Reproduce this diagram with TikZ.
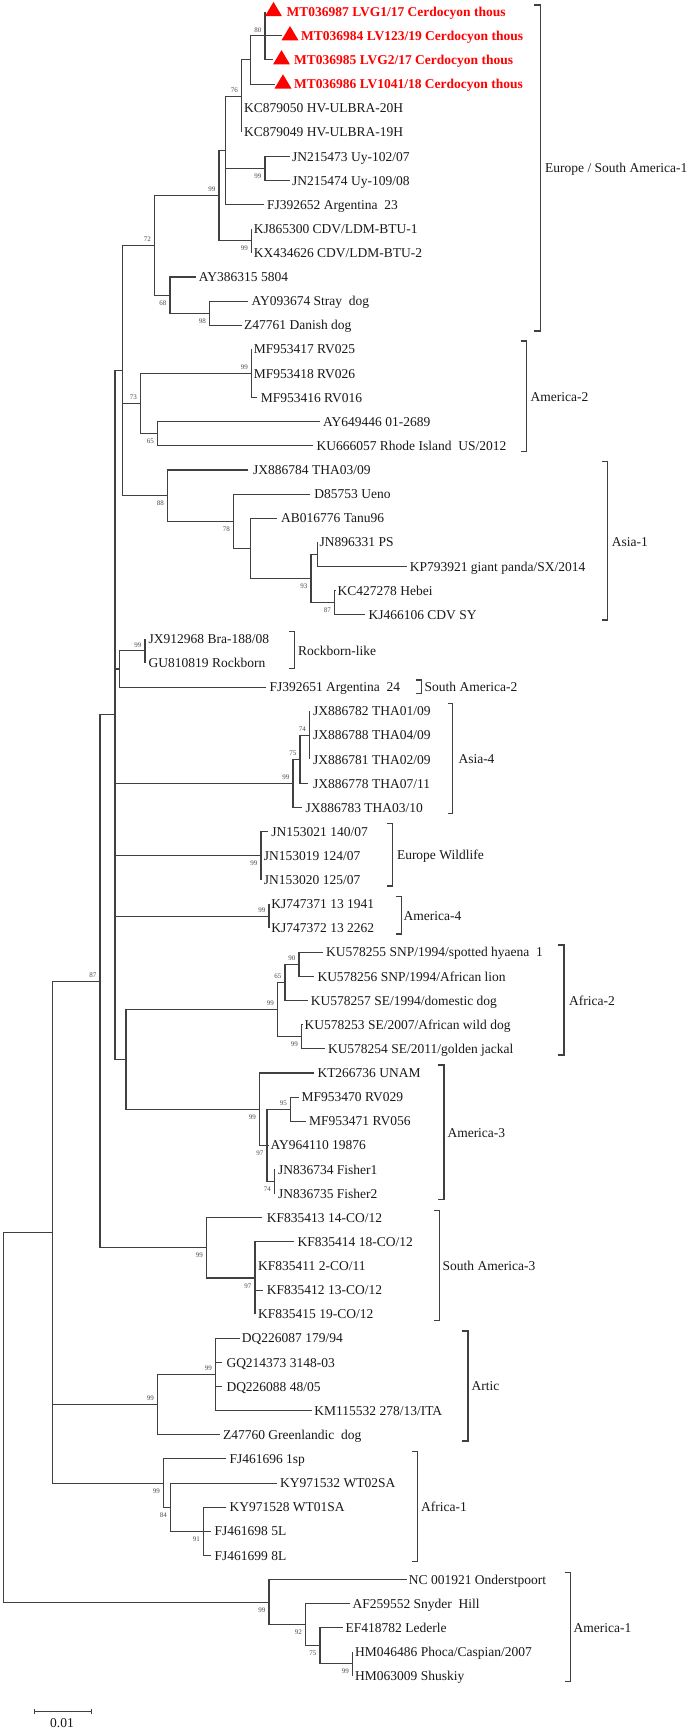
\documentclass[tikz,border=0pt]{standalone}
\usepackage{fontspec}
\setmainfont{Liberation Serif}
\begin{document}
\begin{tikzpicture}[x=1pt,y=-1pt,
  br/.style={draw=black!75,line width=1.05pt},
  brk/.style={draw=black!75,line width=1.05pt},
  lab/.style={anchor=west,inner sep=0pt,font=\fontsize{13.5}{16}\selectfont,text height=9.2pt,text depth=0pt,text=black!90},
  rlab/.style={anchor=west,inner sep=0pt,font=\fontsize{13.5}{16}\selectfont\bfseries,text height=9.2pt,text depth=0pt,text=red},
  bs/.style={inner sep=0pt,font=\fontsize{7}{8}\selectfont,text=black!70,text height=4.8pt,text depth=0pt},
  bsA/.style={bs,anchor=south east,xshift=-3.5pt,yshift=3.5pt},
  bsB/.style={bs,anchor=north east,xshift=-3.5pt,yshift=-5pt},
  tri/.style={fill=red,draw=none}
]
\fill[white] (0,0) rectangle (689,1729);
\useasboundingbox (0,0) rectangle (689,1729);

% ---------- internal nodes ----------
\coordinate (A80) at (265,35.82);
\coordinate (A) at (250.5,59.94);
\coordinate (A76) at (241.5,96.12);
\coordinate (AUy) at (265,168.48);
\coordinate (B) at (225.5,150.39);
\coordinate (BLDM) at (251.5,240.84);
\coordinate (C99) at (219,195.6);
\coordinate (D98) at (209.5,313.2);
\coordinate (D68) at (170,295.11);
\coordinate (E72) at (154.5,245.36);
\coordinate (F99) at (251.5,373.5);
\coordinate (F65) at (157.5,433.8);
\coordinate (F73) at (140.5,403.65);
\coordinate (G87) at (334.5,602.64);
\coordinate (Gjn) at (317.5,554.4);
\coordinate (G93) at (311,578.52);
\coordinate (Gab) at (250.5,548.37);
\coordinate (G78) at (233.5,521.24);
\coordinate (G88) at (167.5,495.61);
\coordinate (H) at (122.5,370.49);
\coordinate (I99) at (145,650.88);
\coordinate (I) at (119.5,668.97);
\coordinate (J74) at (309.5,735.3);
\coordinate (J75) at (300,759.42);
\coordinate (J99) at (293,783.54);
\coordinate (K99) at (261,855.9);
\coordinate (L99) at (269,916.2);
\coordinate (M90) at (299,964.44);
\coordinate (M65) at (285,982.53);
\coordinate (M99b) at (301.5,1036.8);
\coordinate (M99) at (277.5,1009.67);
\coordinate (N95) at (290.5,1109.16);
\coordinate (N74) at (274.5,1181.52);
\coordinate (N97) at (267,1145.34);
\coordinate (N99) at (259.5,1109.16);
\coordinate (O) at (126,1059.4);
\coordinate (P) at (115,714.95);
\coordinate (Q97) at (255,1278);
\coordinate (Q99) at (206.5,1247.85);
\coordinate (R87) at (100,981.4);
\coordinate (S99b) at (215.5,1374.48);
\coordinate (S99) at (157.5,1404.63);
\coordinate (T91) at (203.5,1531.26);
\coordinate (T84) at (170.5,1507.14);
\coordinate (T99) at (163.5,1483.02);
\coordinate (U) at (52.5,1232.2);
\coordinate (V99b) at (352.5,1663.92);
\coordinate (V75) at (320,1645.83);
\coordinate (V92) at (305.5,1624.73);
\coordinate (V99) at (269,1602.1);
\coordinate (Root) at (3.5,1417.15);

% ---------- leaf ends ----------
\coordinate (l1) at (265,11.7);
\coordinate (l2) at (281.5,35.82);
\coordinate (l3) at (273,59.94);
\coordinate (l4) at (274.5,84.06);
\coordinate (l5) at (241.5,108.18);
\coordinate (l6) at (241.5,132.30);
\coordinate (l7) at (290,156.42);
\coordinate (l8) at (290,180.54);
\coordinate (l9) at (263.7,204.66);
\coordinate (l10) at (251.5,228.78);
\coordinate (l11) at (251.5,252.90);
\coordinate (l12) at (195.6,277.02);
\coordinate (l13) at (248.4,301.14);
\coordinate (l14) at (241.8,325.26);
\coordinate (l15) at (251.5,349.38);
\coordinate (l16) at (251.5,373.50);
\coordinate (l17) at (257,397.62);
\coordinate (l18) at (320,421.74);
\coordinate (l19) at (312.9,445.86);
\coordinate (l20) at (248.3,469.98);
\coordinate (l21) at (309.8,494.10);
\coordinate (l22) at (276.8,518.22);
\coordinate (l23) at (317.5,542.34);
\coordinate (l24) at (406.5,566.46);
\coordinate (l25) at (336,590.58);
\coordinate (l26) at (364.7,614.70);
\coordinate (l27) at (145,638.82);
\coordinate (l28) at (145,662.94);
\coordinate (l29) at (266,687.06);
\coordinate (l30) at (309.5,711.18);
\coordinate (l31) at (309.5,735.30);
\coordinate (l32) at (309.5,759.42);
\coordinate (l33) at (308,783.54);
\coordinate (l34) at (302.3,807.66);
\coordinate (l35) at (268,831.78);
\coordinate (l36) at (261,855.90);
\coordinate (l37) at (261,880.02);
\coordinate (l38) at (269,904.14);
\coordinate (l39) at (269,928.26);
\coordinate (l40) at (323,952.38);
\coordinate (l41) at (314,976.50);
\coordinate (l42) at (307.6,1000.62);
\coordinate (l43) at (303,1024.74);
\coordinate (l44) at (325.2,1048.86);
\coordinate (l45) at (314.2,1072.98);
\coordinate (l46) at (299,1097.10);
\coordinate (l47) at (306.3,1121.22);
\coordinate (l48) at (269,1145.34);
\coordinate (l49) at (274.5,1169.46);
\coordinate (l50) at (274.5,1193.58);
\coordinate (l51) at (262.3,1217.70);
\coordinate (l52) at (293.5,1241.82);
\coordinate (l53) at (255,1265.94);
\coordinate (l54) at (262.8,1290.06);
\coordinate (l55) at (255,1314.18);
\coordinate (l56) at (239.5,1338.30);
\coordinate (l57) at (222,1362.42);
\coordinate (l58) at (222,1386.54);
\coordinate (l59) at (312,1410.66);
\coordinate (l60) at (219.7,1434.78);
\coordinate (l61) at (226.3,1458.90);
\coordinate (l62) at (277,1483.02);
\coordinate (l63) at (226.3,1507.14);
\coordinate (l64) at (211,1531.26);
\coordinate (l65) at (211,1555.38);
\coordinate (l66) at (406.5,1579.50);
\coordinate (l67) at (349.5,1603.62);
\coordinate (l68) at (342.8,1627.74);
\coordinate (l69) at (352.5,1651.86);
\coordinate (l70) at (352.5,1675.98);

% ---------- branches (first child -| node |- last child; middle children horizontal) ----------
\draw[br] (U) -| (Root) |- (V99);
\draw[br] (R87) -| (U) |- (T99);
\draw[br] (U |- S99) -- (S99);
\draw[br] (P) -| (R87) |- (Q99);
\draw[br] (H) -| (P) |- (O);
\draw[br] (P |- I) -- (I);
\draw[br] (P |- J99) -- (J99);
\draw[br] (P |- K99) -- (K99);
\draw[br] (P |- L99) -- (L99);
\draw[br] (E72) -| (H) |- (G88);
\draw[br] (H |- F73) -- (F73);
\draw[br] (C99) -| (E72) |- (D68);
\draw[br] (B) -| (C99) |- (BLDM);
\draw[br] (A76) -| (B) |- (l9);
\draw[br] (B |- AUy) -- (AUy);
\draw[br] (A) -| (A76) |- (l6);
\draw[br] (A76 |- l5) -- (l5);
\draw[br] (A80) -| (A) |- (l4);
\draw[br] (l1) -| (A80) |- (l3);
\draw[br] (A80 |- l2) -- (l2);
\draw[br] (l7) -| (AUy) |- (l8);
\draw[br] (l10) -| (BLDM) |- (l11);
\draw[br] (l12) -| (D68) |- (D98);
\draw[br] (l13) -| (D98) |- (l14);
\draw[br] (F99) -| (F73) |- (F65);
\draw[br] (l15) -| (F99) |- (l17);
\draw[br] (F99 |- l16) -- (l16);
\draw[br] (l18) -| (F65) |- (l19);
\draw[br] (l20) -| (G88) |- (G78);
\draw[br] (l21) -| (G78) |- (Gab);
\draw[br] (l22) -| (Gab) |- (G93);
\draw[br] (Gjn) -| (G93) |- (G87);
\draw[br] (l23) -| (Gjn) |- (l24);
\draw[br] (l25) -| (G87) |- (l26);
\draw[br] (I99) -| (I) |- (l29);
\draw[br] (l27) -| (I99) |- (l28);
\draw[br] (J75) -| (J99) |- (l34);
\draw[br] (J74) -| (J75) |- (l33);
\draw[br] (l30) -| (J74) |- (l32);
\draw[br] (J74 |- l31) -- (l31);
\draw[br] (l35) -| (K99) |- (l37);
\draw[br] (K99 |- l36) -- (l36);
\draw[br] (l38) -| (L99) |- (l39);
\draw[br] (M99) -| (O) |- (N99);
\draw[br] (M65) -| (M99) |- (M99b);
\draw[br] (M90) -| (M65) |- (l42);
\draw[br] (l40) -| (M90) |- (l41);
\draw[br] (l43) -| (M99b) |- (l44);
\draw[br] (l45) -| (N99) |- (N97);
\draw[br] (N95) -| (N97) |- (N74);
\draw[br] (N97 |- l48) -- (l48);
\draw[br] (l46) -| (N95) |- (l47);
\draw[br] (l49) -| (N74) |- (l50);
\draw[br] (l51) -| (Q99) |- (Q97);
\draw[br] (l52) -| (Q97) |- (l55);
\draw[br] (Q97 |- l53) -- (l53);
\draw[br] (Q97 |- l54) -- (l54);
\draw[br] (S99b) -| (S99) |- (l60);
\draw[br] (l56) -| (S99b) |- (l59);
\draw[br] (S99b |- l57) -- (l57);
\draw[br] (S99b |- l58) -- (l58);
\draw[br] (l61) -| (T99) |- (T84);
\draw[br] (l62) -| (T84) |- (T91);
\draw[br] (l63) -| (T91) |- (l65);
\draw[br] (T91 |- l64) -- (l64);
\draw[br] (l66) -| (V99) |- (V92);
\draw[br] (l67) -| (V92) |- (V75);
\draw[br] (l68) -| (V75) |- (V99b);
\draw[br] (l69) -| (V99b) |- (l70);

% ---------- red markers ----------
\fill[tri] ([shift={(0,4.5)}]l1) -- ++(17,0) -- ++(-8.5,-14.3) -- cycle;
\fill[tri] ([shift={(0,4.5)}]l2) -- ++(17,0) -- ++(-8.5,-14.3) -- cycle;
\fill[tri] ([shift={(0,4.5)}]l3) -- ++(17,0) -- ++(-8.5,-14.3) -- cycle;
\fill[tri] ([shift={(0,4.5)}]l4) -- ++(17,0) -- ++(-8.5,-14.3) -- cycle;

% ---------- leaf labels ----------
\node[rlab] (t1) at (286.5,11.7) {MT036987 LVG1/17 Cerdocyon thous};
\node[rlab] (t2) at (301,35.82) {MT036984 LV123/19 Cerdocyon thous};
\node[rlab] (t3) at (294,59.94) {MT036985 LVG2/17 Cerdocyon thous};
\node[rlab] (t4) at (294,84.06) {MT036986 LV1041/18 Cerdocyon thous};
\node[lab] (t5) at (244,108.18) {KC879050 HV-ULBRA-20H};
\node[lab] (t6) at (244,132.30) {KC879049 HV-ULBRA-19H};
\node[lab] (t7) at (292,156.42) {JN215473 Uy-102/07};
\node[lab] (t8) at (292,180.54) {JN215474 Uy-109/08};
\node[lab] (t9) at (267,204.66) {FJ392652 Argentina\ \ 23};
\node[lab] (t10) at (253.6,228.78) {KJ865300 CDV/LDM-BTU-1};
\node[lab] (t11) at (253.6,252.90) {KX434626 CDV/LDM-BTU-2};
\node[lab] (t12) at (198.7,277.02) {AY386315 5804};
\node[lab] (t13) at (251.4,301.14) {AY093674 Stray\ \ dog};
\node[lab] (t14) at (244,325.26) {Z47761 Danish dog};
\node[lab] (t15) at (253.6,349.38) {MF953417 RV025};
\node[lab] (t16) at (253.6,373.50) {MF953418 RV026};
\node[lab] (t17) at (260.6,397.62) {MF953416 RV016};
\node[lab] (t18) at (323,421.74) {AY649446 01-2689};
\node[lab] (t19) at (316.4,445.86) {KU666057 Rhode Island\ \ US/2012};
\node[lab] (t20) at (253,469.98) {JX886784 THA03/09};
\node[lab] (t21) at (314.2,494.10) {D85753 Ueno};
\node[lab] (t22) at (281,518.22) {AB016776 Tanu96};
\node[lab] (t23) at (319.5,542.34) {JN896331 PS};
\node[lab] (t24) at (409.6,566.46) {KP793921 giant panda/SX/2014};
\node[lab] (t25) at (337.5,590.58) {KC427278 Hebei};
\node[lab] (t26) at (368.3,614.70) {KJ466106 CDV SY};
\node[lab] (t27) at (148.5,638.82) {JX912968 Bra-188/08};
\node[lab] (t28) at (148.5,662.94) {GU810819 Rockborn};
\node[lab] (t29) at (269.4,687.06) {FJ392651 Argentina\ \ 24};
\node[lab] (t30) at (313,711.18) {JX886782 THA01/09};
\node[lab] (t31) at (313,735.30) {JX886788 THA04/09};
\node[lab] (t32) at (313,759.42) {JX886781 THA02/09};
\node[lab] (t33) at (313,783.54) {JX886778 THA07/11};
\node[lab] (t34) at (305.4,807.66) {JX886783 THA03/10};
\node[lab] (t35) at (271.2,831.78) {JN153021 140/07};
\node[lab] (t36) at (263.7,855.90) {JN153019 124/07};
\node[lab] (t37) at (263.7,880.02) {JN153020 125/07};
\node[lab] (t38) at (271.2,904.14) {KJ747371 13 1941};
\node[lab] (t39) at (271.2,928.26) {KJ747372 13 2262};
\node[lab] (t40) at (326,952.38) {KU578255 SNP/1994/spotted hyaena\ \ 1};
\node[lab] (t41) at (317.3,976.50) {KU578256 SNP/1994/African lion};
\node[lab] (t42) at (310.7,1000.62) {KU578257 SE/1994/domestic dog};
\node[lab] (t43) at (304.5,1024.74) {KU578253 SE/2007/African wild dog};
\node[lab] (t44) at (327.8,1048.86) {KU578254 SE/2011/golden jackal};
\node[lab] (t45) at (317.3,1072.98) {KT266736 UNAM};
\node[lab] (t46) at (301.5,1097.10) {MF953470 RV029};
\node[lab] (t47) at (309,1121.22) {MF953471 RV056};
\node[lab] (t48) at (270.3,1145.34) {AY964110 19876};
\node[lab] (t49) at (277.8,1169.46) {JN836734 Fisher1};
\node[lab] (t50) at (277.8,1193.58) {JN836735 Fisher2};
\node[lab] (t51) at (266.7,1217.70) {KF835413 14-CO/12};
\node[lab] (t52) at (297.5,1241.82) {KF835414 18-CO/12};
\node[lab] (t53) at (258,1265.94) {KF835411 2-CO/11};
\node[lab] (t54) at (266.7,1290.06) {KF835412 13-CO/12};
\node[lab] (t55) at (258,1314.18) {KF835415 19-CO/12};
\node[lab] (t56) at (241.7,1338.30) {DQ226087 179/94};
\node[lab] (t57) at (226.3,1362.42) {GQ214373 3148-03};
\node[lab] (t58) at (226.3,1386.54) {DQ226088 48/05};
\node[lab] (t59) at (314.2,1410.66) {KM115532 278/13/ITA};
\node[lab] (t60) at (222.8,1434.78) {Z47760 Greenlandic\ \ dog};
\node[lab] (t61) at (229.4,1458.90) {FJ461696 1sp};
\node[lab] (t62) at (280,1483.02) {KY971532 WT02SA};
\node[lab] (t63) at (229.4,1507.14) {KY971528 WT01SA};
\node[lab] (t64) at (214.5,1531.26) {FJ461698 5L};
\node[lab] (t65) at (214.5,1555.38) {FJ461699 8L};
\node[lab] (t66) at (408.7,1579.50) {NC 001921 Onderstpoort};
\node[lab] (t67) at (352.4,1603.62) {AF259552 Snyder\ \ Hill};
\node[lab] (t68) at (345.5,1627.74) {EF418782 Lederle};
\node[lab] (t69) at (355,1651.86) {HM046486 Phoca/Caspian/2007};
\node[lab] (t70) at (355,1675.98) {HM063009 Shuskiy};

% ---------- bootstrap values ----------
\node[bsA] (b1) at (A80) {80};
\node[bsA] (b2) at (A76) {76};
\node[bsB] (b3) at (AUy) {99};
\node[bsA] (b4) at (C99) {99};
\node[bsB] (b5) at (BLDM) {99};
\node[bsA] (b6) at (E72) {72};
\node[bsB] (b7) at (D68) {68};
\node[bsB] (b8) at (D98) {98};
\node[bsA] (b9) at (F99) {99};
\node[bsA] (b10) at (F73) {73};
\node[bsB] (b11) at (F65) {65};
\node[bsB] (b12) at (G88) {88};
\node[bsB] (b13) at (G78) {78};
\node[bsB] (b14) at (G93) {93};
\node[bsB] (b15) at (G87) {87};
\node[bsA] (b16) at (I99) {99};
\node[bsA] (b17) at (J74) {74};
\node[bsA] (b18) at (J75) {75};
\node[bsA] (b19) at (J99) {99};
\node[bsB] (b20) at (K99) {99};
\node[bsA] (b21) at (L99) {99};
\node[bsA] (b22) at (M90) {90};
\node[bsA] (b23) at (M65) {65};
\node[bsA] (b24) at (M99) {99};
\node[bsB] (b25) at (M99b) {99};
\node[bsA] (b26) at (N95) {95};
\node[bsB] (b27) at (N99) {99};
\node[bsB] (b28) at (N97) {97};
\node[bsB] (b29) at (N74) {74};
\node[bsA] (b30) at (R87) {87};
\node[bsB] (b31) at (Q99) {99};
\node[bsB] (b32) at (Q97) {97};
\node[bsA] (b33) at (S99b) {99};
\node[bsA] (b34) at (S99) {99};
\node[bsB] (b35) at (T99) {99};
\node[bsB] (b36) at (T84) {84};
\node[bsB] (b37) at (T91) {91};
\node[bsB] (b38) at (V99) {99};
\node[bsB] (b39) at (V92) {92};
\node[bsB] (b40) at (V75) {75};
\node[bsB] (b41) at (V99b) {99};

% ---------- clade brackets ----------
\draw[brk] (534,5) -- (540.5,5) -- (540.5,331) -- (534,331);
\node[lab] (g1) at (545,168.3) {Europe / South America-1};
\draw[brk] (520.5,341) -- (526.5,341) -- (526.5,451.7) -- (520.5,451.7);
\node[lab] (g2) at (530.4,397.3) {America-2};
\draw[brk] (601.5,461.7) -- (607.5,461.7) -- (607.5,620) -- (601.5,620);
\node[lab] (g3) at (611.7,542.3) {Asia-1};
\draw[brk] (288.5,631.7) -- (294.5,631.7) -- (294.5,668.3) -- (288.5,668.3);
\node[lab] (g4) at (298,650.7) {Rockborn-like};
\draw[brk] (415.5,680) -- (421.5,680) -- (421.5,693.3) -- (415.5,693.3);
\node[lab] (g5) at (424.5,686.7) {South America-2};
\draw[brk] (447.5,703.3) -- (452.5,703.3) -- (452.5,813.3) -- (447.5,813.3);
\node[lab] (g6) at (458.3,759) {Asia-4};
\draw[brk] (386.5,823.3) -- (392.5,823.3) -- (392.5,886) -- (386.5,886);
\node[lab] (g7) at (396.8,855) {Europe Wildlife};
\draw[brk] (395.5,896.7) -- (401.5,896.7) -- (401.5,934) -- (395.5,934);
\node[lab] (g8) at (403.4,916) {America-4};
\draw[brk] (558,945) -- (564,945) -- (564,1055) -- (558,1055);
\node[lab] (g9) at (569,1001) {Africa-2};
\draw[brk] (437.5,1065) -- (444,1065) -- (444,1199.3) -- (437.5,1199.3);
\node[lab] (g10) at (447.3,1133.3) {America-3};
\draw[brk] (433.5,1210.7) -- (439.5,1210.7) -- (439.5,1320.7) -- (433.5,1320.7);
\node[lab] (g11) at (442.5,1266) {South America-3};
\draw[brk] (461.5,1331) -- (468,1331) -- (468,1441) -- (461.5,1441);
\node[lab] (g12) at (471.5,1386) {Artic};
\draw[brk] (411.5,1451.7) -- (417.5,1451.7) -- (417.5,1561.7) -- (411.5,1561.7);
\node[lab] (g13) at (421,1506.7) {Africa-1};
\draw[brk] (564.5,1572.3) -- (570.5,1572.3) -- (570.5,1681.7) -- (564.5,1681.7);
\node[lab] (g14) at (573.5,1628.3) {America-1};

% ---------- scale bar ----------
\coordinate (s1) at (34.5,1711.5);
\coordinate (s2) at (91.5,1711.5);
\draw[brk] (s1) -- (s2);
\draw[brk] ([yshift=2.5pt]s1) -- ([yshift=-2.5pt]s1);
\draw[brk] ([yshift=2.5pt]s2) -- ([yshift=-2.5pt]s2);
\node[lab,anchor=center] (sc) at (62,1723.3) {0.01};
\end{tikzpicture}
\end{document}
